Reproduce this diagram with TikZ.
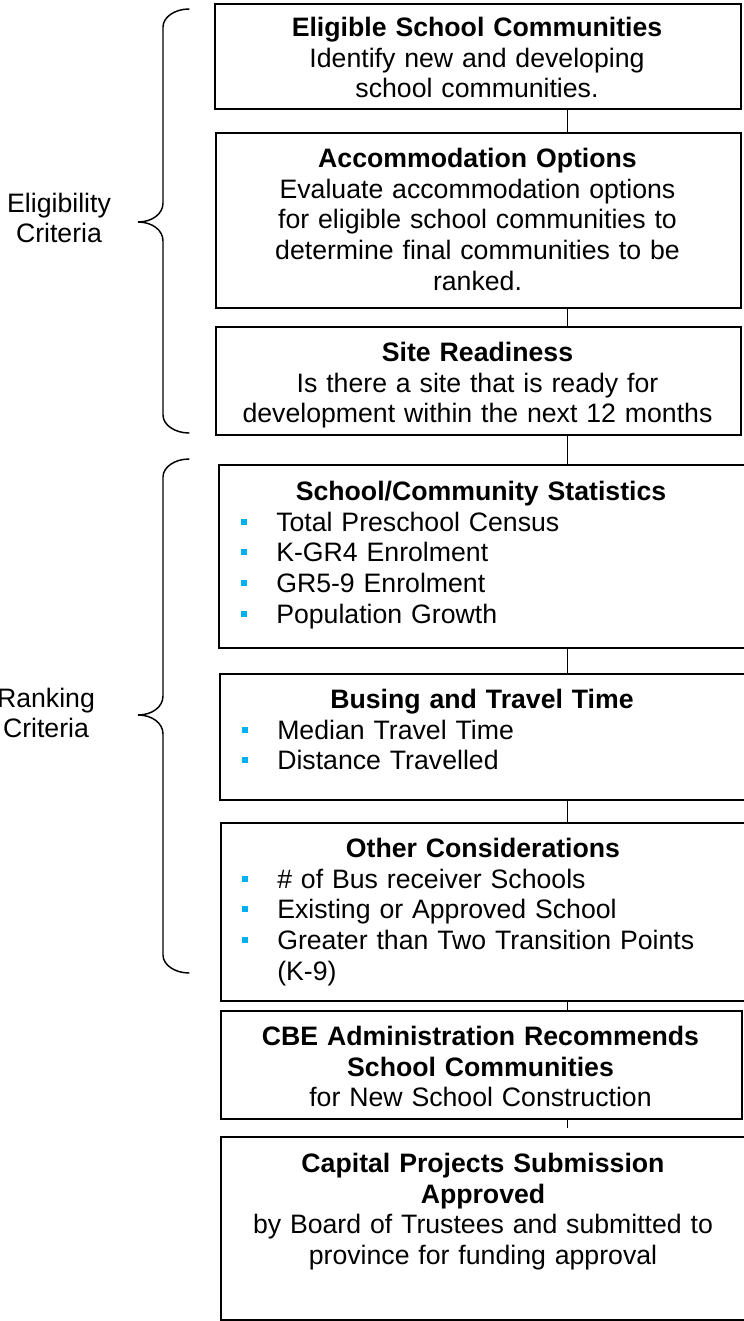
\documentclass[tikz,border=0pt]{standalone}
\usepackage{fontspec}
\setmainfont{Liberation Sans}

\definecolor{bulletblue}{RGB}{0,176,240}
\tikzset{
  stepbox/.style={draw, line width=1.4pt, anchor=north west, inner sep=0pt},
  steptext/.style={anchor=base, align=center, text width=392pt, inner sep=0pt, font=\fontsize{20}{23}\selectfont},
  sidetext/.style={anchor=base, align=center, text width=90pt, inner sep=0pt, font=\fontsize{20}{23}\selectfont},
  itemtext/.style={anchor=base west, align=left, text width=340pt, inner sep=0pt, font=\fontsize{20}{23}\selectfont},
  bul/.style={fill=bulletblue, inner sep=0pt, minimum width=3.8pt, minimum height=4.5pt},
  link/.style={line width=1.1pt},
  brace/.style={line width=1.1pt, line cap=round},
}

\begin{document}
\begin{tikzpicture}[x=0.75pt, y=-0.75pt]
    \useasboundingbox (0,0) rectangle (743,1321);
    % the eight boxes, by their top left corners
    \node[stepbox, minimum width=394.5pt, minimum height=78.75pt]  (s1) at (214,3)    {};
    \node[stepbox, minimum width=393.75pt, minimum height=131.25pt] (s2) at (215,132)  {};
    \node[stepbox, minimum width=393.75pt, minimum height=81pt]    (s3) at (215,326)  {};
    \node[stepbox, minimum width=394.5pt, minimum height=137.25pt] (s4) at (218,464)  {};
    \node[stepbox, minimum width=394.5pt, minimum height=94.5pt]   (s5) at (219,673)  {};
    \node[stepbox, minimum width=394.5pt, minimum height=133.5pt]  (s6) at (220,822)  {};
    \node[stepbox, minimum width=390.75pt, minimum height=81pt]    (s7) at (220,1010) {};
    \node[stepbox, minimum width=394.5pt, minimum height=137.25pt] (s8) at (220,1136) {};

    \coordinate (spine) at (567.5,0);
    \foreach \a/\b in {1/2,2/3,3/4,4/5,5/6,6/7}
        \draw[link] (s\a.south -| spine) -- (s\b.north -| spine);
    \draw[link, shorten >=6pt] (s7.south -| spine) -- (s8.north -| spine);

    \node[steptext] (t1) at (477,36.5) {\textbf{Eligible School Communities}\\Identify new and developing\\school communities.};
    \node[steptext] (t2) at (477.5,167.5) {\textbf{Accommodation Options}\\Evaluate accommodation options\\for eligible school communities to\\determine final communities to be\\ranked.};
    \node[steptext] (t3) at (477.5,361.5) {\textbf{Site Readiness}\\Is there a site that is ready for\\development within the next 12 months};

    \node[steptext] (t4) at (481,500.5) {\textbf{School/Community Statistics}};
    \foreach \t [count=\i] in {Total Preschool Census, K-GR4 Enrolment, GR5-9 Enrolment, Population Growth} {
        \node[bul] (b4\i) at (244,491+30.67*\i) {};
        \node[itemtext] (i4\i) at (276,500.5+30.67*\i) {\t};
    }

    \node[steptext] (t5) at (482,708.5) {\textbf{Busing and Travel Time}};
    \foreach \t [count=\i] in {Median Travel Time, Distance Travelled} {
        \node[bul] (b5\i) at (245,699+30.67*\i) {};
        \node[itemtext] (i5\i) at (277,708.5+30.67*\i) {\t};
    }

    \node[steptext] (t6) at (483,857.5) {\textbf{Other Considerations}};
    \foreach \t [count=\i] in {\# of Bus receiver Schools, Existing or Approved School, {Greater than Two Transition Points\\(K-9)}} {
        \node[bul] (b6\i) at (245,848+30.67*\i) {};
        \node[itemtext] (i6\i) at (277,857.5+30.67*\i) {\t};
    }

    \node[steptext] (t7) at (480.5,1045.5) {\textbf{CBE Administration Recommends}\\\textbf{School Communities}\\for New School Construction};
    \node[steptext] (t8) at (483,1172.5) {\textbf{Capital Projects Submission}\\\textbf{Approved}\\by Board of Trustees and submitted to\\province for funding approval};

    % braces and their labels
    \foreach \ta/\tm/\tb in {9/222/433, 459/715/973}
        \draw[brace] (189,\ta) .. controls (175,\ta) and (163,\ta+8) .. (163,\ta+18)
            -- (163,\tm-19) .. controls (163,\tm-8) and (152,\tm) .. (138,\tm)
            .. controls (152,\tm) and (163,\tm+8) .. (163,\tm+19)
            -- (163,\tb-18) .. controls (163,\tb-8) and (175,\tb) .. (189,\tb);
    \node[sidetext] (elig) at (59,212) {Eligibility\\Criteria};
    \node[sidetext] (rank) at (46,707) {Ranking\\Criteria};
\end{tikzpicture}
\end{document}
